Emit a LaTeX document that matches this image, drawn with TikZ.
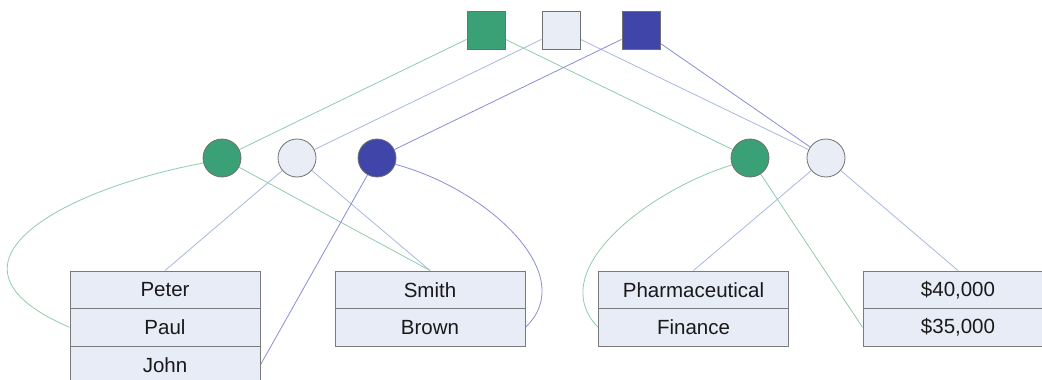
\documentclass[tikz,border=0pt]{standalone}
\usepackage{fontspec}
\setmainfont{Liberation Sans}
\definecolor{cgreen}{HTML}{3AA075}
\definecolor{clight}{HTML}{E9EDF6}
\definecolor{cblue}{HTML}{3F45A9}
\definecolor{boxfill}{HTML}{E8ECF6}
\definecolor{shapegray}{HTML}{707070}
\definecolor{boxgray}{HTML}{7A7A7A}
\definecolor{glinec}{HTML}{8FCCAB}
\definecolor{llinec}{HTML}{A6B8E0}
\definecolor{blinec}{HTML}{8A8CD6}
\pgfdeclarelayer{background}
\pgfsetlayers{background,main}
\begin{document}
\begin{tikzpicture}[x=1pt,y=-1pt,
  sq/.style={rectangle, minimum size=38pt, inner sep=0pt, draw=shapegray, line width=1pt},
  circ/.style={circle, minimum size=38pt, inner sep=0pt, draw=shapegray, line width=0.8pt},
  cell/.style={rectangle, minimum width=190pt, minimum height=37.5pt, inner sep=0pt,
    draw=boxgray, fill=boxfill, line width=1pt, text=black!90,
    font=\fontsize{20.5}{20.5}\selectfont},
  gl/.style={draw=glinec, line width=0.8pt},
  ll/.style={draw=llinec, line width=0.8pt},
  bl/.style={draw=blinec, line width=0.8pt}]
\useasboundingbox (0,0) rectangle (1042,380);
\clip (0,0) rectangle (1042,380);
% top squares
\node[sq, fill=cgreen] (sg) at (486,30) {};
\node[sq, fill=clight] (sl) at (561,30) {};
\node[sq, fill=cblue] (sb) at (641,30) {};
% circles
\node[circ, fill=cgreen] (cg1) at (222,158) {};
\node[circ, fill=clight] (cl1) at (297,158) {};
\node[circ, fill=cblue] (cb1) at (377,158) {};
\node[circ, fill=cgreen] (cg2) at (750,158) {};
\node[circ, fill=clight] (cl2) at (826,158) {};
% boxes
\node[cell] (peter) at (165,289.75) {Peter};
\node[cell] (paul) at (165,327.25) {Paul};
\node[cell] (john) at (165,364.75) {John};
\node[cell] (smith) at (430,289.75) {Smith};
\node[cell] (brown) at (430,327.25) {Brown};
\node[cell] (pharm) at (693.5,289.75) {Pharmaceutical};
\node[cell] (finance) at (693.5,327.25) {Finance};
\node[cell] (s40) at (958,289.75) {\$40,000};
\node[cell] (s35) at (958,327.25) {\$35,000};
\begin{pgfonlayer}{background}
% green
\draw[gl] (sg) -- (cg1);
\draw[gl] (sg) -- (cg2);
\draw[gl] (cg1) -- (smith.north);
\draw[gl] (cg1.195) .. controls +(-144,27) and +(-145,-62) .. (paul.west);
\draw[gl] (cg2.201) .. controls +(-82,25) and +(-55,-57) .. (finance.west);
\draw[gl] (cg2) -- (s35.west);
% light
\draw[ll] (sl) -- (cl1);
\draw[ll] (sl) -- (cl2);
\draw[ll] (cl1) -- (peter.north);
\draw[ll] (cl1) -- (smith.north);
\draw[ll] (cl2) -- (pharm.north);
\draw[ll] (cl2) -- (s40.north);
% blue
\draw[bl] (sb) -- (cb1);
\draw[bl] (sb) -- (cl2);
\draw[bl] (cb1) -- (john.east);
\draw[bl] (cb1.-19) .. controls +(93,25) and +(55,-52) .. (brown.east);
\end{pgfonlayer}
\end{tikzpicture}
\end{document}
